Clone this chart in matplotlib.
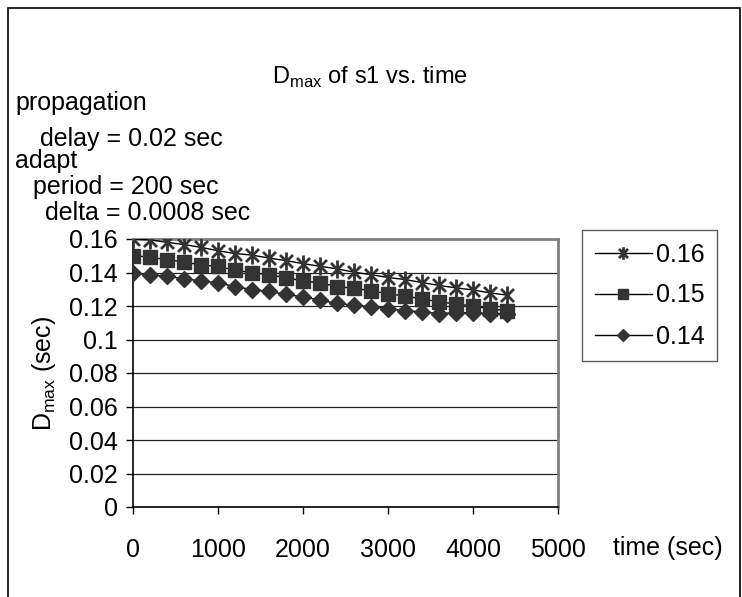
import matplotlib
matplotlib.use("Agg")
import matplotlib.pyplot as plt
from matplotlib.path import Path
from matplotlib.patches import Rectangle

plt.rcParams['font.family'] = ['Liberation Sans', 'DejaVu Sans']

time_s = [0, 200, 400, 600, 800, 1000, 1200, 1400, 1600, 1800, 2000, 2200,
          2400, 2600, 2800, 3000, 3200, 3400, 3600, 3800, 4000, 4200, 4400]
d016 = [0.1600, 0.1595, 0.1580, 0.1567, 0.1550, 0.1530, 0.1513, 0.1504, 0.1486,
        0.1471, 0.1453, 0.1437, 0.1422, 0.1402, 0.1387, 0.1370, 0.1358, 0.1340,
        0.1323, 0.1308, 0.1296, 0.1278, 0.1265]
d015 = [0.1500, 0.1492, 0.1476, 0.1463, 0.1445, 0.1436, 0.1414, 0.1399, 0.1387,
        0.1368, 0.1350, 0.1338, 0.1316, 0.1305, 0.1292, 0.1272, 0.1260, 0.1242,
        0.1225, 0.1212, 0.1200, 0.1183, 0.1172]
d014 = [0.1395, 0.1387, 0.1377, 0.1363, 0.1350, 0.1338, 0.1316, 0.1298, 0.1287,
        0.1269, 0.1255, 0.1235, 0.1215, 0.1205, 0.1195, 0.1185, 0.1172, 0.1165,
        0.1155, 0.1160, 0.1160, 0.1155, 0.1155]
series_labels = ['0.16', '0.15', '0.14']
yticks = [0, 0.02, 0.04, 0.06, 0.08, 0.1, 0.12, 0.14, 0.16]
ytick_labels = ['0', '0.02', '0.04', '0.06', '0.08', '0.1', '0.12', '0.14', '0.16']
xticks = [0, 1000, 2000, 3000, 4000, 5000]

W, H = 742, 597
fig = plt.figure(figsize=(W / 100, H / 100), dpi=100)
fig.patch.set_facecolor('white')

# outer frame (bottom edge lies outside the picture)
fig.add_artist(Rectangle((8 / W, -10 / H), (740 - 8) / W, (H - 8 + 10) / H,
                         transform=fig.transFigure, fill=False, edgecolor='black', lw=1.2))

FS = 18
L, R, T, B = 133, 558, 239, 507
ax = fig.add_axes([L / W, 1 - B / H, (R - L) / W, (B - T) / H])

star = Path([(0, -1), (0, 1), (-0.72, -0.72), (0.72, 0.72), (-0.72, 0.72), (0.72, -0.72)],
            [Path.MOVETO, Path.LINETO, Path.MOVETO, Path.LINETO, Path.MOVETO, Path.LINETO])

mc = '#333333'
ax.plot(time_s, d016, color='black', lw=1, marker=star, ms=13, mew=2,
        mec=mc, mfc='none', label=series_labels[0], zorder=3)
ax.plot(time_s, d015, color='black', lw=1, marker='s', ms=10.5, mec=mc, mfc=mc,
        label=series_labels[1], zorder=3)
ax.plot(time_s, d014, color='black', lw=1, marker='D', ms=8.5, mec=mc, mfc=mc,
        label=series_labels[2], zorder=3)

ax.set_xlim(0, 5000)
ax.set_ylim(0, 0.16)
ax.set_yticks(yticks)
ax.set_yticklabels(ytick_labels)
ax.set_xticks(xticks)
ax.set_xticklabels([str(x) for x in xticks])
ax.yaxis.grid(True, color='#222222', lw=0.9)
ax.set_axisbelow(True)
for s in ['top', 'right']:
    ax.spines[s].set_color('#808080')
    ax.spines[s].set_linewidth(2)
for s in ['left', 'bottom']:
    ax.spines[s].set_color('black')
    ax.spines[s].set_linewidth(1.2)
ax.tick_params(axis='both', direction='out', length=5, width=1, labelsize=FS, colors='black')
ax.tick_params(axis='x', pad=17)
ax.tick_params(axis='y', pad=6)

ax.set_ylabel('D$_{\\mathregular{max}}$ (sec)', fontsize=FS, labelpad=8)

fig.text(370 / W, 1 - 77 / H, 'D$_{\\mathregular{max}}$ of s1 vs. time', fontsize=17,
         ha='center', va='center')
fig.text(15 / W, 1 - 103 / H, 'propagation', fontsize=FS, ha='left', va='center')
fig.text(40 / W, 1 - 139 / H, 'delay = 0.02 sec', fontsize=FS, ha='left', va='center')
fig.text(15 / W, 1 - 161 / H, 'adapt', fontsize=FS, ha='left', va='center')
fig.text(33 / W, 1 - 187 / H, 'period = 200 sec', fontsize=FS, ha='left', va='center')
fig.text(45 / W, 1 - 213 / H, 'delta = 0.0008 sec', fontsize=FS, ha='left', va='center')
fig.text(668 / W, 1 - 548 / H, 'time (sec)', fontsize=FS, ha='center', va='center')

leg = fig.legend(loc='upper left', bbox_to_anchor=(582 / W, 1 - 230 / H),
                 fontsize=FS, frameon=True, fancybox=False, edgecolor='#333333',
                 markerscale=0.7, handlelength=2.3, handletextpad=0.15,
                 labelspacing=0.68, borderpad=0.5, borderaxespad=0)
leg.get_frame().set_linewidth(1)

fig.savefig('out.png', dpi=100)
